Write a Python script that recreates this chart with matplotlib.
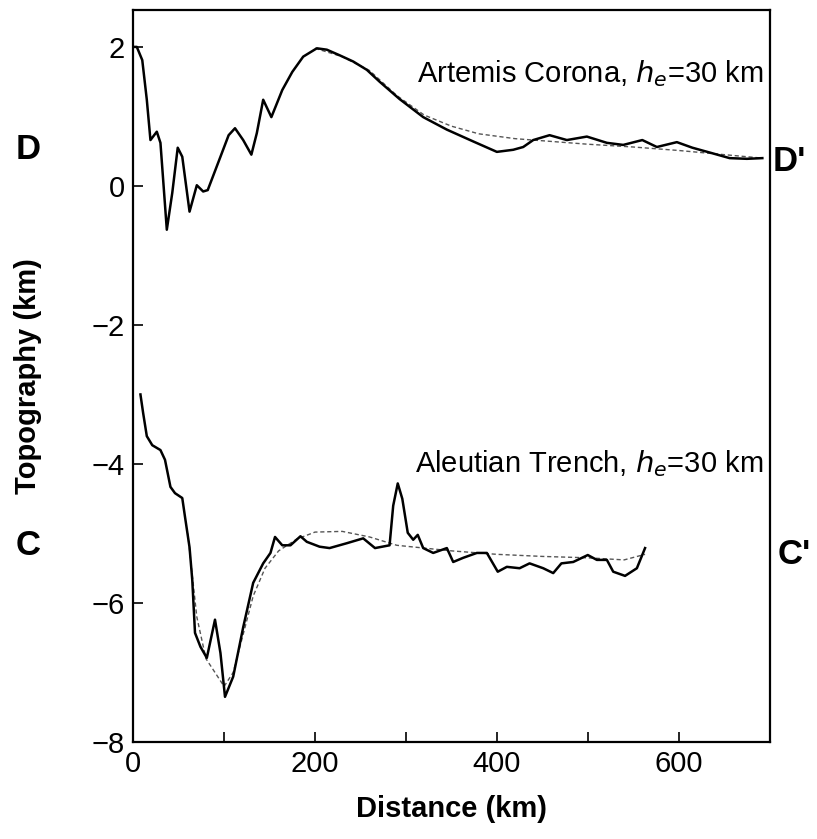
import matplotlib.pyplot as plt

plt.rcParams['font.family'] = ['Liberation Sans', 'DejaVu Sans']

# Artemis Corona profile (D - D')
artemis_x = [0, 4, 10, 15, 19, 26, 30, 37, 43, 49, 54, 62, 70, 77, 82, 96, 105, 112, 121,
             130, 136, 143, 152, 164, 175, 187, 202, 213, 227, 242, 257, 271, 293, 319,
             345, 374, 400, 418, 429, 440, 458, 477, 499, 521, 539, 560, 576, 598, 615,
             637, 656, 675, 692]
artemis_y = [2.0, 2.0, 1.81, 1.24, 0.66, 0.78, 0.62, -0.63, -0.1, 0.55, 0.42, -0.37, 0.01,
             -0.08, -0.06, 0.42, 0.73, 0.83, 0.66, 0.45, 0.76, 1.24, 0.99, 1.38, 1.64, 1.86,
             1.98, 1.96, 1.88, 1.79, 1.67, 1.50, 1.25, 0.99, 0.81, 0.64, 0.49, 0.52, 0.56,
             0.66, 0.73, 0.66, 0.71, 0.62, 0.59, 0.66, 0.56, 0.63, 0.55, 0.47, 0.40, 0.39,
             0.40]
artemis_model_x = [200, 230, 260, 290, 320, 350, 380, 420, 460, 500, 550, 600, 650, 692]
artemis_model_y = [1.98, 1.86, 1.66, 1.30, 1.02, 0.86, 0.75, 0.68, 0.64, 0.60, 0.56, 0.51, 0.45, 0.40]

# Aleutian Trench profile (C - C')
aleutian_x = [8, 11, 15, 21, 30, 35, 41, 46, 54, 57, 62, 65, 68, 74, 81, 90, 96, 101, 110,
              121, 132, 143, 151, 156, 164, 173, 184, 191, 205, 216, 235, 253, 266, 282,
              286, 291, 296, 302, 308, 313, 319, 330, 345, 352, 363, 378, 389, 401, 411,
              425, 436, 451, 462, 471, 484, 500, 510, 521, 528, 541, 554, 563]
aleutian_y = [-3.0, -3.27, -3.6, -3.73, -3.8, -3.94, -4.33, -4.42, -4.49, -4.76, -5.2,
              -5.67, -6.43, -6.63, -6.79, -6.24, -6.72, -7.35, -7.06, -6.35, -5.71, -5.43,
              -5.28, -5.05, -5.17, -5.17, -5.04, -5.12, -5.19, -5.21, -5.14, -5.07, -5.21,
              -5.17, -4.6, -4.28, -4.5, -4.99, -5.09, -5.02, -5.21, -5.28, -5.21, -5.41,
              -5.35, -5.28, -5.28, -5.55, -5.48, -5.50, -5.43, -5.50, -5.57, -5.43, -5.41,
              -5.31, -5.38, -5.38, -5.55, -5.61, -5.50, -5.21]
aleutian_model_x = [60, 70, 80, 90, 100, 110, 120, 132, 145, 160, 180, 200, 230, 260, 290,
                    350, 400, 450, 500, 540, 563]
aleutian_model_y = [-5.0, -6.2, -6.8, -7.0, -7.2, -7.0, -6.5, -5.9, -5.5, -5.25, -5.08, -4.98,
                    -4.97, -5.05, -5.17, -5.25, -5.30, -5.33, -5.35, -5.38, -5.30]

fig = plt.figure(figsize=(8.17, 8.39), dpi=100)
ax = fig.add_axes([0.163, 0.1156, 0.779, 0.8724])

ax.plot(artemis_model_x, artemis_model_y, color='#555555', lw=1.0, ls=(0, (3, 2)))
ax.plot(artemis_x, artemis_y, color='black', lw=1.8)
ax.plot(aleutian_model_x, aleutian_model_y, color='#555555', lw=1.0, ls=(0, (3, 2)))
ax.plot(aleutian_x, aleutian_y, color='black', lw=1.8)

ax.text(693, 1.62, 'Artemis Corona, $h_e$=30 km', ha='right', va='center', fontsize=21)
ax.text(693, -4.0, 'Aleutian Trench, $h_e$=30 km', ha='right', va='center', fontsize=21)

ax.text(-0.185, 0.52, 'D', transform=ax.get_yaxis_transform(), ha='left', va='center',
        fontsize=25, fontweight='bold')
ax.text(1.005, 0.35, "D'", transform=ax.get_yaxis_transform(), ha='left', va='center',
        fontsize=25, fontweight='bold')
ax.text(-0.185, -5.17, 'C', transform=ax.get_yaxis_transform(), ha='left', va='center',
        fontsize=25, fontweight='bold')
ax.text(1.012, -5.3, "C'", transform=ax.get_yaxis_transform(), ha='left', va='center',
        fontsize=25, fontweight='bold')

ax.set_xlim(0, 700)
ax.set_ylim(-8, 2.53)
ax.set_xticks([0, 100, 200, 300, 400, 500, 600])
ax.set_xticklabels(['0', '', '200', '', '400', '', '600'])
ax.set_yticks([2, 0, -2, -4, -6, -8])
ax.tick_params(direction='in', length=7, width=1.2, labelsize=21, pad=6)
for s in ax.spines.values():
    s.set_linewidth(1.6)

ax.set_xlabel('Distance (km)', fontsize=21, fontweight='bold', labelpad=12)
ax.set_ylabel('Topography (km)', fontsize=21, fontweight='bold', labelpad=36)

fig.savefig('out.png', dpi=100)
